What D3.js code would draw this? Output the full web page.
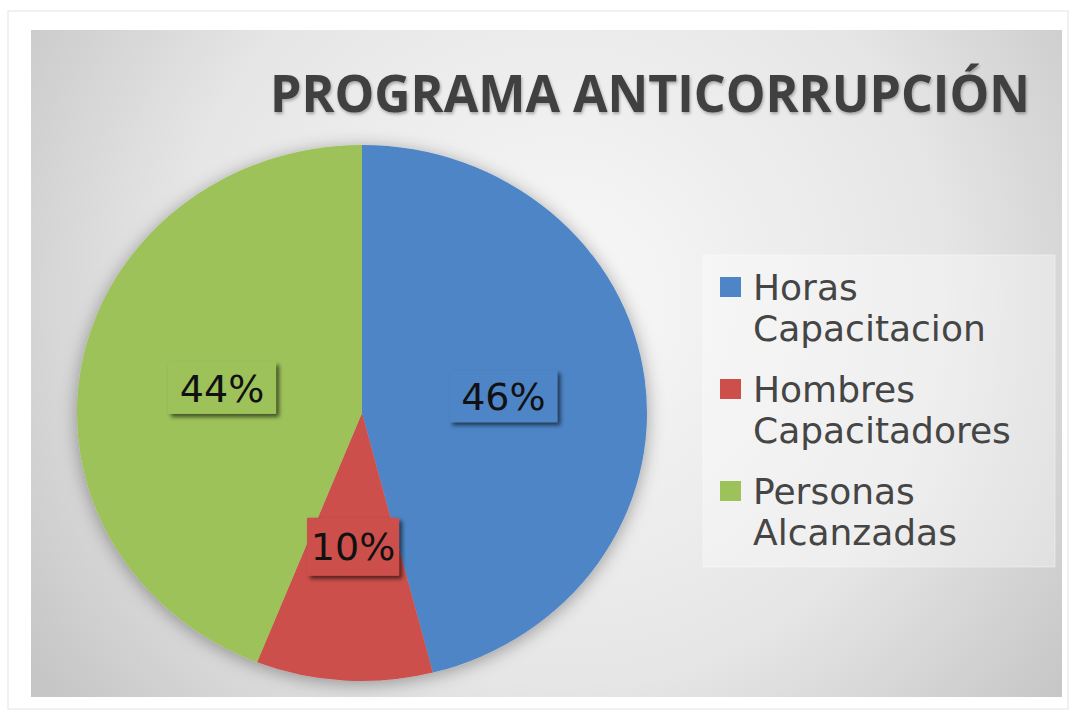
<!DOCTYPE html>
<html>
<head>
<meta charset="utf-8">
<script src="https://cdn.jsdelivr.net/npm/d3@7"></script>
<style>
  body { margin: 0; background: #fff; }
</style>
</head>
<body>
<script>
var w = 1076;
var h = 715;

var title = "PROGRAMA ANTICORRUPCIÓN";
var categories = ["Horas Capacitacion", "Hombres Capacitadores", "Personas Alcanzadas"];
var legendLines = [["Horas", "Capacitacion"], ["Hombres", "Capacitadores"], ["Personas", "Alcanzadas"]];
var values = [46, 10, 44];
var colors = ["#4e85c6", "#cc4f4b", "#9dc25a"];

var cx = 362, cy = 413;
var rx = 285, ry = 268;

var svg = d3.select("body").append("svg")
    .attr("width", w)
    .attr("height", h);

var defs = svg.append("defs");

var bg = defs.append("radialGradient")
    .attr("id", "bg")
    .attr("gradientUnits", "userSpaceOnUse")
    .attr("cx", 560).attr("cy", 300).attr("r", 640);
bg.append("stop").attr("offset", "0%").attr("stop-color", "#f8f8f8");
bg.append("stop").attr("offset", "60%").attr("stop-color", "#e6e6e6");
bg.append("stop").attr("offset", "100%").attr("stop-color", "#c6c6c6");

var pieShadow = defs.append("filter").attr("id", "pieShadow")
    .attr("x", "-20%").attr("y", "-20%").attr("width", "140%").attr("height", "140%");
pieShadow.append("feDropShadow")
    .attr("dx", 0).attr("dy", 3)
    .attr("stdDeviation", 9)
    .attr("flood-color", "#000").attr("flood-opacity", 0.35);

var boxShadow = defs.append("filter").attr("id", "boxShadow")
    .attr("x", "-20%").attr("y", "-20%").attr("width", "150%").attr("height", "150%");
boxShadow.append("feDropShadow")
    .attr("dx", 3).attr("dy", 3)
    .attr("stdDeviation", 2)
    .attr("flood-color", "#000").attr("flood-opacity", 0.6);

var titleShadow = defs.append("filter").attr("id", "titleShadow");
titleShadow.append("feDropShadow")
    .attr("dx", 1).attr("dy", 2)
    .attr("stdDeviation", 1.5)
    .attr("flood-color", "#000").attr("flood-opacity", 0.3);

// frame
svg.append("rect")
    .attr("x", 8).attr("y", 11)
    .attr("width", 1060).attr("height", 698)
    .attr("fill", "#fff")
    .attr("stroke", "#e4e4e4");

svg.append("rect")
    .attr("x", 31).attr("y", 30)
    .attr("width", 1031).attr("height", 667)
    .attr("fill", "url(#bg)");

// title
svg.append("text")
    .attr("x", 270).attr("y", 112)
    .attr("textLength", 760)
    .attr("lengthAdjust", "spacingAndGlyphs")
    .attr("font-family", "'Open Sans', sans-serif")
    .attr("font-weight", "bold")
    .attr("font-size", 52)
    .attr("fill", "#404040")
    .attr("filter", "url(#titleShadow)")
    .text(title);

// pie
var pie = d3.pie().sort(null).value(function(d) { return d; });
var arcs = pie(values);

var arc = d3.arc().innerRadius(0).outerRadius(rx);

var g = svg.append("g")
    .attr("transform", "translate(" + cx + "," + cy + ") scale(1," + (ry / rx) + ")")
    .attr("filter", "url(#pieShadow)");

g.selectAll("path")
    .data(arcs)
    .enter().append("path")
    .attr("d", arc)
    .attr("fill", function(d, i) { return colors[i]; });

// data labels
var labels = svg.append("g");

arcs.forEach(function(d, i) {
    var c = arc.centroid(d);
    var x = cx + c[0];
    var y = cy + c[1] * ry / rx;
    var lg = labels.append("g").attr("transform", "translate(" + x + "," + y + ")");
    var bw = i == 1 ? 92 : 108;
    var bh = i == 1 ? 58 : 52;
    lg.append("rect")
        .attr("x", -bw / 2).attr("y", -bh / 2)
        .attr("width", bw).attr("height", bh)
        .attr("fill", colors[i])
        .attr("filter", "url(#boxShadow)");
    lg.append("text")
        .attr("text-anchor", "middle")
        .attr("dy", "0.36em")
        .attr("font-family", "'DejaVu Sans', sans-serif")
        .attr("font-size", 38)
        .attr("fill", "#111")
        .text(values[i] + "%");
});

// legend
var legend = svg.append("g");

legend.append("rect")
    .attr("x", 703).attr("y", 255)
    .attr("width", 352).attr("height", 312)
    .attr("fill", "#fff")
    .attr("fill-opacity", 0.35)
    .attr("stroke", "#fff")
    .attr("stroke-opacity", 0.4);

categories.forEach(function(c, i) {
    var top = 277 + i * 102;
    legend.append("rect")
        .attr("x", 720).attr("y", top)
        .attr("width", 21).attr("height", 20)
        .attr("fill", colors[i]);
    legendLines[i].forEach(function(line, j) {
        legend.append("text")
            .attr("x", 753)
            .attr("y", top + 23 + j * 41)
            .attr("font-family", "'DejaVu Sans', sans-serif")
            .attr("font-size", 36)
            .attr("fill", "#454545")
            .text(line);
    });
});
</script>
</body>
</html>
